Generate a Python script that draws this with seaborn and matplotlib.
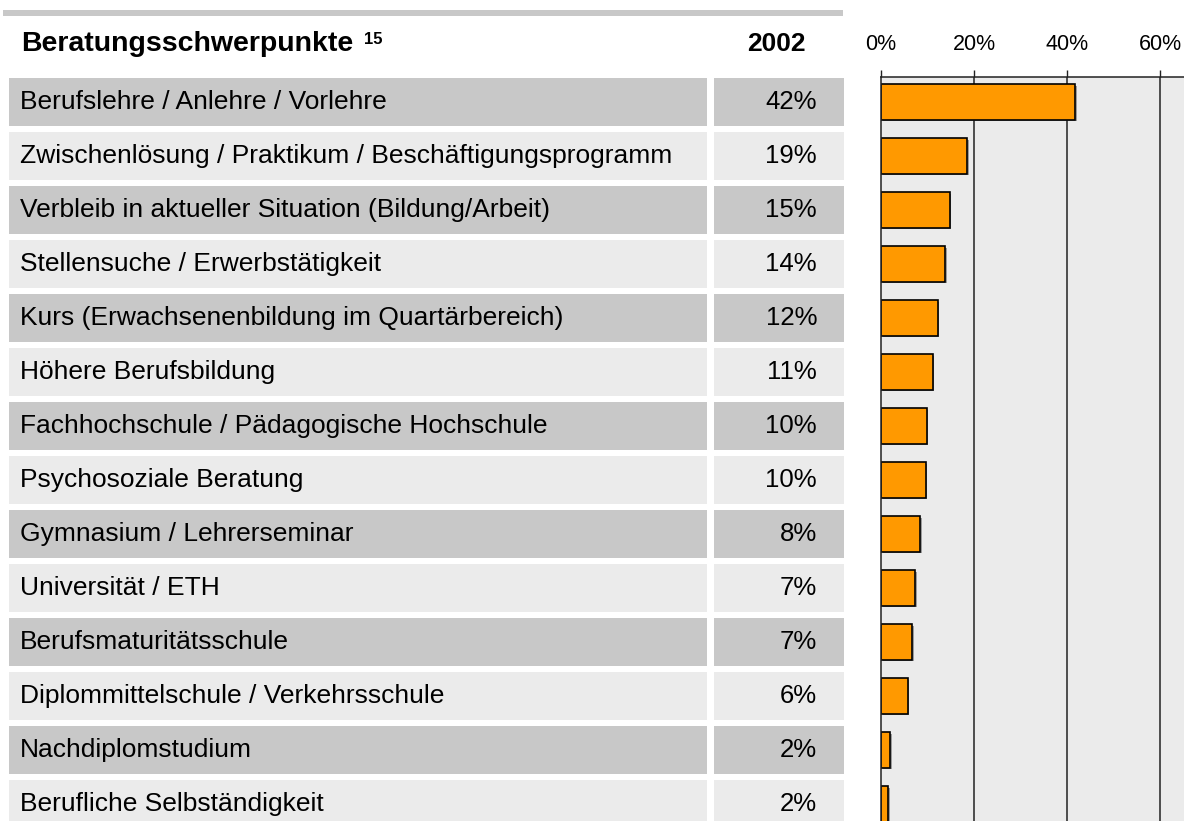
import matplotlib
matplotlib.use("Agg")
import matplotlib.pyplot as plt
import matplotlib.patheffects as pe
import numpy as np
import seaborn as sns

# Data
categories = [
    "Berufslehre / Anlehre / Vorlehre",
    "Zwischenlösung / Praktikum / Beschäftigungsprogramm",
    "Verbleib in aktueller Situation (Bildung/Arbeit)",
    "Stellensuche / Erwerbstätigkeit",
    "Kurs (Erwachsenenbildung im Quartärbereich)",
    "Höhere Berufsbildung",
    "Fachhochschule / Pädagogische Hochschule",
    "Psychosoziale Beratung",
    "Gymnasium / Lehrerseminar",
    "Universität / ETH",
    "Berufsmaturitätsschule",
    "Diplommittelschule / Verkehrsschule",
    "Nachdiplomstudium",
    "Berufliche Selbständigkeit",
]
values = [41.7, 18.6, 14.8, 13.8, 12.2, 11.1, 9.8, 9.6, 8.4, 7.4, 6.7, 5.7, 1.9, 1.5]
year_label = "2002"
title = "Beratungsschwerpunkte"
footnote = "15"
x_ticks = [0, 20, 40, 60]

sns.set_theme(style="white")
plt.rcParams["font.family"] = ["Liberation Sans", "DejaVu Sans"]
plt.rcParams["text.color"] = "black"

W, H = 1184, 821
DARK = "#c8c8c8"
LIGHT = "#ebebeb"
ORANGE = "#ff9900"

fig = plt.figure(figsize=(W / 100, H / 100), dpi=100)

# pixel layout: row i centred at 102 + 54 * i, axes span from y=77 to the bottom
top_px = 77
pitch = 54
row0 = 102
y_top = (top_px - row0) / pitch
y_bot = (H - row0) / pitch
ax_h = (H - top_px) / H

# ---- table part ----
tab = fig.add_axes([0, 0, 860 / W, ax_h])
tab.set_xlim(0, 860)
tab.set_ylim(y_bot, y_top)
tab.axis("off")

rows = np.arange(len(categories))
cell_colors = [DARK if i % 2 == 0 else LIGHT for i in rows]
tab.barh(rows, 698, left=9, height=48 / pitch, color=cell_colors, linewidth=0)
tab.barh(rows, 130, left=714, height=48 / pitch, color=cell_colors, linewidth=0)
for i, (cat, v) in enumerate(zip(categories, values)):
    tab.text(20, i, cat, fontsize=19, va="center", ha="left", color="black")
    tab.text(817, i, f"{int(v + 0.5)}%", fontsize=18.5, va="center", ha="right", color="black")

# header
head_y = (44 - row0) / pitch
t = tab.text(21, head_y, title, fontsize=20.5, fontweight="bold", va="center",
             ha="left", clip_on=False, color="black")
tab.annotate(footnote, xy=(1, 1), xycoords=t, xytext=(8, -1), textcoords="offset points",
             fontsize=12, fontweight="bold", va="top", ha="left", color="black")
tab.text(806, head_y, year_label, fontsize=19, fontweight="bold", va="center",
         ha="right", clip_on=False, color="black")

# grey band on top
band_y = (13 - row0) / pitch
tab.barh([band_y], 840, left=3, height=6 / pitch, color=DARK, linewidth=0, clip_on=False)

# ---- bar chart part ----
ax = fig.add_axes([881 / W, 0, 1 - 881 / W, ax_h])
ax.set_facecolor(LIGHT)
sns.barplot(x=values, y=categories, orient="h", color=ORANGE, width=0.65,
            edgecolor="black", linewidth=1.2, saturation=1, ax=ax)
for p in ax.patches:
    p.set_path_effects([pe.SimplePatchShadow(offset=(1.2, -1.2), shadow_rgbFace="#666666",
                                             alpha=0.6), pe.Normal()])
ax.set_xlim(0, (W - 881) / 4.65)
ax.set_ylim(y_bot, y_top)
ax.set_yticks([])
ax.set_ylabel("")
ax.set_xticks(x_ticks)
ax.set_xticklabels([f"{x}%" for x in x_ticks])
ax.xaxis.tick_top()
ax.tick_params(axis="x", top=True, bottom=False, direction="out", length=5,
               width=1, color="#222222", pad=10.5, labelsize=15.5, labelcolor="black")
for x in x_ticks[1:]:
    ax.axvline(x, color="#222222", linewidth=1.1, zorder=0.5)
for side in ["right", "bottom"]:
    ax.spines[side].set_visible(False)
for side in ["left", "top"]:
    ax.spines[side].set_visible(True)
    ax.spines[side].set_color("#222222")
    ax.spines[side].set_linewidth(1.1)

fig.savefig("out.png", dpi=100)
